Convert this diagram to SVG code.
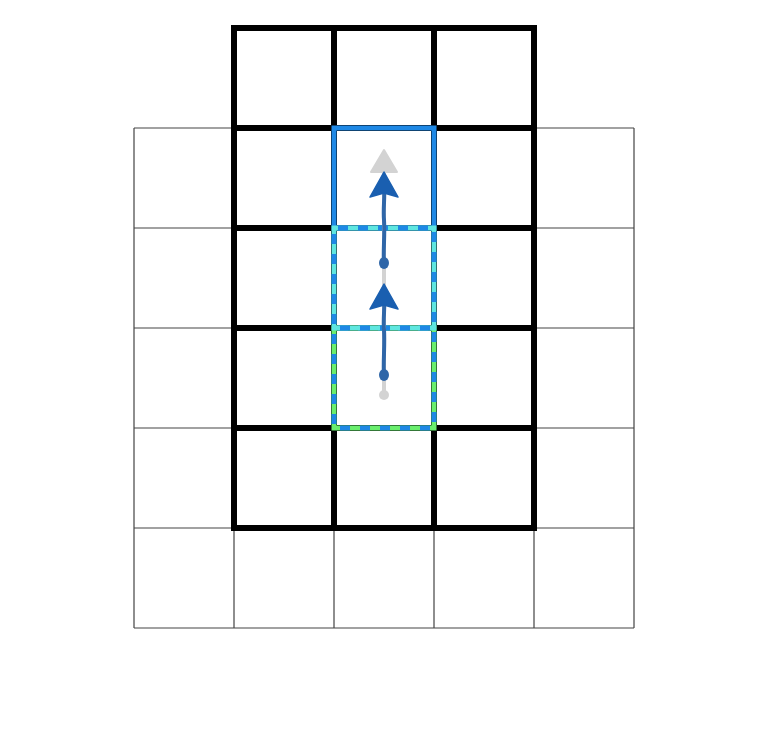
<svg xmlns="http://www.w3.org/2000/svg" width="768" height="756" viewBox="0 0 768 756">
<style>
.thin{fill:none;stroke:#444;stroke-width:1.2}
.thick{fill:none;stroke:#000;stroke-width:6;stroke-linecap:square}
.gray{stroke:#d3d3d3;stroke-width:4;stroke-linecap:round;fill:none}
.blue{stroke:#2f66a8;stroke-width:4;stroke-linecap:round;fill:none}
.cell{fill:none;stroke-width:5}
.dash{fill:none;stroke:#1e88e5;stroke-width:5;stroke-dasharray:10 10;stroke-dashoffset:-4}
</style>
<rect width="768" height="756" fill="#fff"/>
<g id="grid-thin">
<path class="thin" d="M134 128V628M234 128V628M334 128V628M434 128V628M534 128V628M634 128V628M134 128H634M134 228H634M134 328H634M134 428H634M134 528H634M134 628H634"/>
</g>
<g id="grid-thick">
<path class="thick" d="M234 28V528M334 28V528M434 28V528M534 28V528M234 28H534M234 128H534M234 228H534M234 328H534M234 428H534M234 528H534"/>
</g>
<g id="cell-start">
<rect class="cell" x="334" y="128" width="100" height="100" stroke="#1e88e5"/>
</g>
<g id="cell-end">
<rect class="cell" x="334" y="328" width="100" height="100" stroke="#69ee6e"/>
<rect class="dash" x="334" y="328" width="100" height="100"/>
</g>
<g id="cell-mid">
<rect class="cell" x="334" y="228" width="100" height="100" stroke="#5ee6e0"/>
<rect class="dash" x="334" y="228" width="100" height="100"/>
</g>
<g id="connectors">
<path class="gray" d="M384 395V165"/>
<circle cx="384" cy="395" r="5" fill="#d3d3d3"/>
<polygon points="384,150 397,172 371,172" fill="#d3d3d3" stroke="#d3d3d3" stroke-width="2" stroke-linejoin="round"/>
<path class="blue" d="M384 265C383 250 385 235 384 220C383 208 385 198 384 186"/>
<ellipse cx="384" cy="263" rx="5" ry="6" fill="#2f66a8"/>
<polygon points="384,172 398,197 384,193 370,197" fill="#1a5fb0" stroke="#1a5fb0" stroke-width="1.5" stroke-linejoin="round"/>
<path class="blue" d="M384 377C383 362 385 345 384 330C383 318 385 308 384 298"/>
<ellipse cx="384" cy="375" rx="5" ry="6" fill="#2f66a8"/>
<polygon points="384,284 398,309 384,305 370,309" fill="#1a5fb0" stroke="#1a5fb0" stroke-width="1.5" stroke-linejoin="round"/>
</g>
</svg>
